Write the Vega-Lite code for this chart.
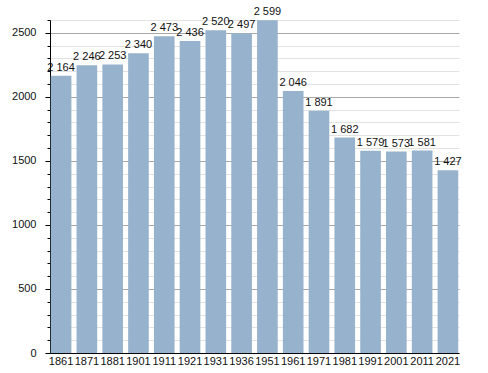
{
  "$schema": "https://vega.github.io/schema/vega-lite/v6.json",
  "width": 409,
  "height": 333,
  "autosize": "none",
  "padding": {"left": 50, "top": 20, "right": 29, "bottom": 20},
  "config": {
    "view": {"stroke": null},
    "font": "Liberation Sans",
    "locale": {"number": {"decimal": ",", "thousands": " ", "grouping": [3], "currency": ["", ""]}}
  },
  "data": {
    "values": [
      {"year": "1861", "pop": 2164},
      {"year": "1871", "pop": 2246},
      {"year": "1881", "pop": 2253},
      {"year": "1901", "pop": 2340},
      {"year": "1911", "pop": 2473},
      {"year": "1921", "pop": 2436},
      {"year": "1931", "pop": 2520},
      {"year": "1936", "pop": 2497},
      {"year": "1951", "pop": 2599},
      {"year": "1961", "pop": 2046},
      {"year": "1971", "pop": 1891},
      {"year": "1981", "pop": 1682},
      {"year": "1991", "pop": 1579},
      {"year": "2001", "pop": 1573},
      {"year": "2011", "pop": 1581},
      {"year": "2021", "pop": 1427}
    ]
  },
  "encoding": {
    "x": {
      "field": "year", "type": "ordinal", "sort": null,
      "scale": {"paddingInner": 0.2, "paddingOuter": 0.03},
      "axis": {"title": null, "labelAngle": 0, "ticks": false, "domainColor": "#000", "labelPadding": 2, "labelFontSize": 11, "labelColor": "#111", "labelOverlap": false}
    },
    "y": {
      "field": "pop", "type": "quantitative",
      "scale": {"domain": [0, 2600], "nice": false},
      "axis": {
        "title": null,
        "values": [0,100,200,300,400,500,600,700,800,900,1000,1100,1200,1300,1400,1500,1600,1700,1800,1900,2000,2100,2200,2300,2400,2500,2600],
        "format": "d",
        "labelExpr": "datum.value % 500 === 0 ? datum.label : ''",
        "labelOverlap": false,
        "labelFontSize": 11,
        "labelColor": "#111",
        "labelPadding": 9,
        "domainColor": "#000",
        "tickColor": "#000",
        "tickSize": {"condition": {"test": "datum.value % 500 === 0", "value": 5}, "value": 3},
        "gridColor": {"condition": {"test": "datum.value % 500 === 0", "value": "#a8a8a8"}, "value": "#e2e2e2"}
      }
    }
  },
  "layer": [
    {"mark": {"type": "bar", "color": "#97b2cc"}},
    {"mark": {"type": "text", "baseline": "bottom", "dy": -3, "fontSize": 11, "color": "#111"},
     "encoding": {"text": {"field": "pop", "type": "quantitative", "format": ",d"}}}
  ]
}
